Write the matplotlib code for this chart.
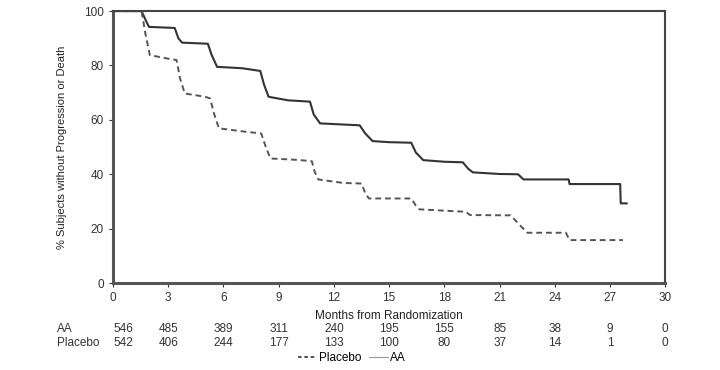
import matplotlib
matplotlib.use("Agg")
import matplotlib.pyplot as plt
from matplotlib.lines import Line2D

plt.rcParams['font.family'] = ['Liberation Sans', 'DejaVu Sans']

# Kaplan-Meier curves (months, % without progression or death)
aa_t = [0, 1.55, 1.75, 1.95, 3.35, 3.55, 3.75, 5.15, 5.35, 5.65, 7.0, 8.0, 8.2, 8.45, 9.5, 10.7, 10.9, 11.25,
        12.5, 13.4, 13.7, 14.1, 15.0, 16.2, 16.45, 16.85, 18.0, 19.0, 19.3, 19.55, 21.0, 22.0, 22.3, 24.75, 24.8,
        27.55, 27.58, 27.9]
aa_s = [100, 100, 97, 94.2, 93.8, 90, 88.4, 88.0, 84, 79.5, 79, 78, 73, 68.5, 67.2, 66.7, 62, 58.7,
        58.3, 58.0, 55, 52.2, 51.8, 51.6, 48, 45.2, 44.6, 44.4, 42, 40.7, 40.1, 40.0, 38.1, 38.1, 36.4,
        36.4, 29.3, 29.3]
pl_t = [0, 1.55, 1.75, 2.0, 3.0, 3.45, 3.65, 3.9, 5.0, 5.27, 5.5, 5.75, 7.0, 8.05, 8.3, 8.55, 10.0, 10.8, 10.95,
        11.15, 12.5, 13.5, 13.7, 13.9, 16.2, 16.45, 16.65, 19.15, 19.4, 21.6, 22.0, 22.5, 24.6, 24.8, 27.7]
pl_s = [100, 100, 92, 83.8, 82.5, 82, 75, 69.7, 68.5, 67.9, 62, 56.9, 55.8, 55.0, 50, 45.8, 45.3, 44.8, 41,
        38.1, 36.8, 36.6, 33, 31.1, 31.1, 28.5, 27.1, 26.2, 25.0, 24.9, 22, 18.5, 18.5, 15.8, 15.8]

xticks = [0, 3, 6, 9, 12, 15, 18, 21, 24, 27, 30]
yticks = [0, 20, 40, 60, 80, 100]
risk_groups = ["AA", "Placebo"]
risk_aa = [546, 485, 389, 311, 240, 195, 155, 85, 38, 9, 0]
risk_pl = [542, 406, 244, 177, 133, 100, 80, 37, 14, 1, 0]

fig = plt.figure(figsize=(7.2, 3.7), dpi=100)
ax = fig.add_axes([0.157, 0.235, 0.767, 0.735])

ax.plot(aa_t, aa_s, color='#333333', lw=1.5, ls='-')
ax.plot(pl_t, pl_s, color='#555555', lw=1.4, ls=(0, (3, 2)))

ax.set_xlim(0, 30)
ax.set_ylim(0, 100)
ax.set_xticks(xticks)
ax.set_yticks(yticks)
ax.tick_params(labelsize=8.5, colors='#333333', length=3, width=0.8, direction='out')
for s in ['left', 'bottom']:
    ax.spines[s].set_linewidth(2.2)
    ax.spines[s].set_color('#555555')
for s in ['top', 'right']:
    ax.spines[s].set_linewidth(1.5)
    ax.spines[s].set_color('#444444')

ax.set_ylabel('% Subjects without Progression or Death', fontsize=8, color='#222222', labelpad=12)
ax.set_xlabel('Months from Randomization', fontsize=8.5, color='#222222', labelpad=4)

# risk table
for row, (name, vals) in enumerate(zip(risk_groups, [risk_aa, risk_pl])):
    y_fig = (370 - 329 - row * 14) / 370
    fig.text(57 / 720, y_fig, name, fontsize=8.5, color='#333333', va='center', ha='left')
    for i, (xv, v) in enumerate(zip(xticks, vals)):
        xf = fig.transFigure.inverted().transform(ax.transData.transform((xv, 0)))[0]
        fig.text(xf, y_fig, str(v), fontsize=8.5, color='#333333', va='center',
                 ha='left' if i == 0 else 'center')

handles = [Line2D([], [], color='#444444', lw=1.3, ls=(0, (2, 1.5))),
           Line2D([], [], color='#999999', lw=0.8, ls='-')]
fig.legend(handles, ['Placebo', 'AA'], loc='center', bbox_to_anchor=(352 / 720, 1 - 358 / 370), ncol=2,
           frameon=False, fontsize=8.5, handlelength=1.6, handletextpad=0.2, columnspacing=0.6)

fig.savefig('out.png', dpi=100)
